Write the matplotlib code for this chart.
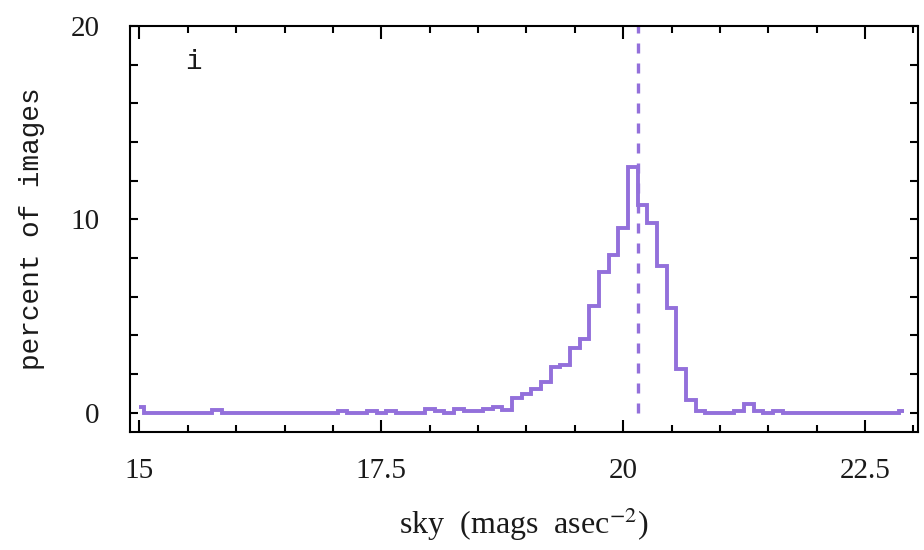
import matplotlib
matplotlib.use("Agg")
import matplotlib.pyplot as plt
from matplotlib.ticker import MultipleLocator, FuncFormatter

# Sky brightness histogram (i band): bin centres and percent of images per bin
sky_centers = [round(15.0 + 0.1 * k, 1) for k in range(80)]
percent_images = [
    0.27, 0.0, 0.0, 0.0, 0.0, 0.0, 0.0, 0.0, 0.15, 0.0,   # 15.0 - 15.9
    0.0, 0.0, 0.0, 0.0, 0.0, 0.0, 0.0, 0.0, 0.0, 0.0,     # 16.0 - 16.9
    0.0, 0.1, 0.0, 0.0, 0.1, 0.0, 0.1, 0.0, 0.0, 0.0,     # 17.0 - 17.9
    0.19, 0.1, 0.0, 0.19, 0.1, 0.1, 0.19, 0.28, 0.14, 0.75,  # 18.0 - 18.9
    0.95, 1.21, 1.59, 2.38, 2.49, 3.37, 3.80, 5.52, 7.29, 8.15,  # 19.0 - 19.9
    9.53, 12.73, 10.74, 9.81, 7.6, 5.44, 2.28, 0.65, 0.1, 0.0,  # 20.0 - 20.9
    0.0, 0.0, 0.1, 0.45, 0.1, 0.0, 0.1, 0.0, 0.0, 0.0,    # 21.0 - 21.9
    0.0, 0.0, 0.0, 0.0, 0.0, 0.0, 0.0, 0.0, 0.0, 0.1,     # 22.0 - 22.9
]
median_sky = 20.15
band_label = "i"

x_major_ticks = [15, 17.5, 20, 22.5]
y_major_ticks = [0, 10, 20]

# histeps-style edges: steps halfway between centres, half bins at the ends
edges = [sky_centers[0]]
edges += [(a + b) / 2 for a, b in zip(sky_centers[:-1], sky_centers[1:])]
edges += [sky_centers[-1]]

purple = "#9370DB"
ink = "#1a1a1a"

plt.rcParams["mathtext.fontset"] = "stix"

fig = plt.figure(figsize=(9.24, 5.5), dpi=100)
ax = fig.add_axes([0.1407, 0.2145, 0.8528, 0.7382])

ax.stairs(percent_images, edges, baseline=None, color=purple, linewidth=2.8)
ax.vlines(median_sky, 0, 20, colors=purple, linewidth=2.4,
          linestyles=(0, (3, 3)))

ax.set_xlim(14.902, 23.047)
ax.set_ylim(-1, 20)

ax.set_xticks(x_major_ticks)
ax.xaxis.set_minor_locator(MultipleLocator(0.5))
ax.set_yticks(y_major_ticks)
ax.yaxis.set_minor_locator(MultipleLocator(2))
ax.xaxis.set_major_formatter(FuncFormatter(lambda v, p: f"{v:g}"))
ax.yaxis.set_major_formatter(FuncFormatter(lambda v, p: f"{v:g}"))

for side in ax.spines.values():
    side.set_linewidth(1.5)

ax.tick_params(which="both", direction="in", top=True, right=True,
               width=1.5, color="black")
ax.tick_params(axis="x", which="major", length=9, pad=19)
ax.tick_params(axis="x", which="minor", length=5)
ax.tick_params(axis="y", which="both", length=6, pad=22)

for lab in ax.get_xticklabels() + ax.get_yticklabels():
    lab.set_fontfamily("Liberation Serif")
    lab.set_fontsize(21)
    lab.set_color(ink)

ax.set_xlabel("sky  (mags  asec$^{-2}$)", family="Liberation Serif",
              fontsize=23, color=ink, labelpad=15)
ax.set_ylabel("percent of images", family="Liberation Mono", fontsize=20,
              color=ink, labelpad=18)

ax.text(15.56, 18.15, band_label, family="Liberation Mono", fontsize=20,
        ha="center", va="center", color=ink)

fig.savefig("out.png", dpi=100)
